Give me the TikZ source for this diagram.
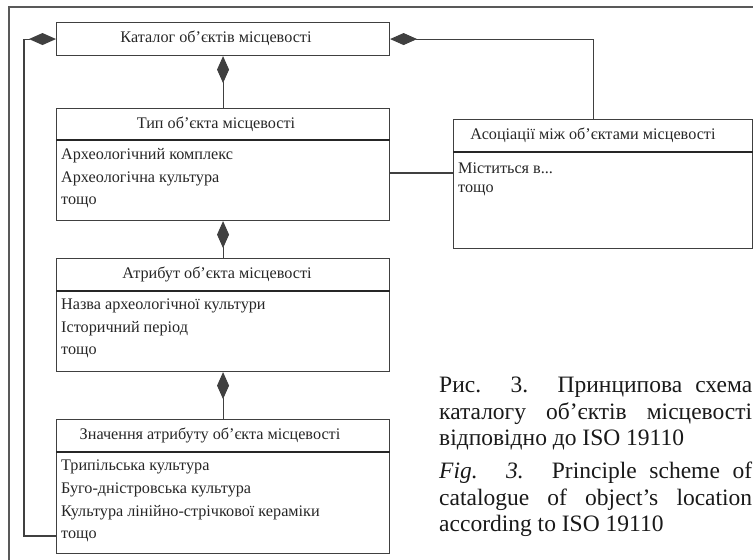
\documentclass[tikz,border=0pt]{standalone}
\usepackage{fontspec}
\setmainfont{Liberation Serif}
\usetikzlibrary{arrows.meta}
\begin{document}
\begin{tikzpicture}[x=1pt,y=-1pt,
  box/.style={draw=black!75, line width=1.1pt, anchor=north west, inner sep=0pt},
  hdr/.style={font=\fontsize{16.2}{19}\selectfont, text=black!85, inner sep=0pt},
  item/.style={anchor=west, font=\fontsize{16.2}{19}\selectfont, text=black!85, inner sep=0pt},
  divline/.style={draw=black!85, line width=2pt},
  link/.style={draw=black!75, line width=1.1pt},
  dia/.style={{Diamond[length=27pt,width=12pt]}-},
  frameline/.style={draw=black!65, line width=1.6pt},
  captext/.style={anchor=north west, inner sep=0pt, text width=313pt, align=justify,
    font=\fontsize{23.5}{26.5}\selectfont, text=black!90}]
\useasboundingbox (0,0) rectangle (753,560);
\clip (0,0) rectangle (753,560);
% outer frame
\draw[frameline] (9,562) -- (9,7) -- (755,7);
% boxes
\node[box, minimum width=333pt, minimum height=33pt] (cat) at (56,22) {};
\node[hdr] (cath) at (216,38.5) {Каталог об’єктів місцевості};

\node[box, minimum width=333pt, minimum height=112pt] (typ) at (56,108) {};
\node[hdr] (typh) at (216,124) {Тип об’єкта місцевості};
\draw[divline] ([yshift=-32pt]typ.north west) -- ([yshift=-32pt]typ.north east);
\node[item] (typ1) at (61,156) {Археологічний комплекс};
\node[item] (typ2) at (61,179) {Археологічна культура};
\node[item] (typ3) at (61,202) {тощо};

\node[box, minimum width=333pt, minimum height=113pt] (atr) at (56,258) {};
\node[hdr] (atrh) at (217,274.5) {Атрибут об’єкта місцевості};
\draw[divline] ([yshift=-33pt]atr.north west) -- ([yshift=-33pt]atr.north east);
\node[item] (atr1) at (61,306) {Назва археологічної культури};
\node[item] (atr2) at (61,329) {Історичний період};
\node[item] (atr3) at (61,352) {тощо};

\node[box, minimum width=333pt, minimum height=134pt] (zn) at (56,419) {};
\node[hdr] (znh) at (210,435.5) {Значення атрибуту об’єкта місцевості};
\draw[divline] ([yshift=-33pt]zn.north west) -- ([yshift=-33pt]zn.north east);
\node[item] (zn1) at (61,467) {Трипільська культура};
\node[item] (zn2) at (61,490) {Буго-дністровська культура};
\node[item] (zn3) at (61,513) {Культура лінійно-стрічкової кераміки};
\node[item] (zn4) at (61,536) {тощо};

\node[box, minimum width=299pt, minimum height=129pt] (as) at (453,119) {};
\node[hdr] (ash) at (593,135.5) {Асоціації між об’єктами місцевості};
\draw[divline] ([yshift=-33pt]as.north west) -- ([yshift=-33pt]as.north east);
\node[item] (as1) at (458,168) {Міститься в...};
\node[item] (as2) at (458,190) {тощо};

% connectors
\draw[link,dia] (cat.south) -- (typ.north);
\draw[link,dia] (typ.south) -- (atr.north);
\draw[link,dia] (atr.south) -- (zn.north);
\draw[link,dia] (cat.west) -- ++(-32,0) |- (zn.west |- zn4);
\draw[link,dia] (cat.east) -| ([xshift=-9.5pt]as.north);
\draw[link] (typ.east |- 0,173) -- (as.west |- 0,173);

% caption
\node[captext] (cap1) at (439,377) {Рис. 3. Принципова схема\linebreak
каталогу об’єктів місцевості\linebreak відповідно до ISO 19110};
\node[captext] (cap2) at (439,462) {\textit{Fig. 3.} Principle scheme of\linebreak
catalogue of object’s location\linebreak according to ISO 19110};
\end{tikzpicture}
\end{document}
